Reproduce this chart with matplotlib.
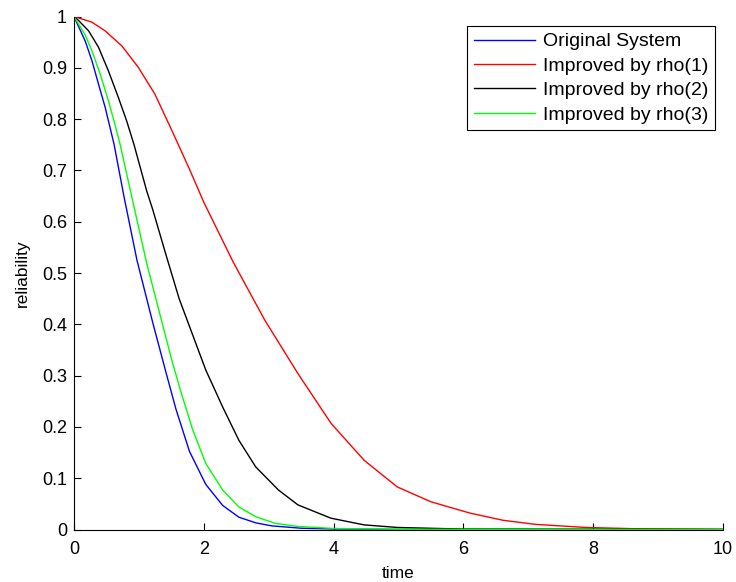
import matplotlib
matplotlib.use("Agg")
import matplotlib.pyplot as plt

plt.rcParams["font.family"] = ["Liberation Sans", "DejaVu Sans"]

# values
t_orig = [0, 0.072, 0.173, 0.276, 0.378, 0.48, 0.617, 0.77, 0.97, 1.22,
          1.42, 1.57, 1.78, 2.03, 2.29, 2.54, 2.80, 3.05, 3.5, 4.0, 5.0, 10.0]
r_orig = [1, 0.98, 0.952, 0.914, 0.868, 0.823, 0.751, 0.649, 0.525, 0.400,
          0.305, 0.235, 0.152, 0.088, 0.047, 0.024, 0.013, 0.007, 0.0025,
          0.001, 0.0002, 0.0]

t_rho1 = [0, 0.275, 0.48, 0.735, 0.99, 1.245, 1.50, 1.77, 2.0, 2.45, 2.94,
          3.45, 3.96, 4.47, 4.98, 5.5, 6.1, 6.61, 7.11, 7.88, 8.64, 10.0]
r_rho1 = [1, 0.989, 0.972, 0.943, 0.901, 0.849, 0.78, 0.705, 0.638, 0.522,
          0.408, 0.304, 0.207, 0.135, 0.083, 0.054, 0.032, 0.018, 0.010,
          0.004, 0.0015, 0.0002]

t_rho2 = [0, 0.072, 0.225, 0.378, 0.53, 0.684, 0.81, 0.923, 1.12, 1.21,
          1.43, 1.62, 1.80, 2.03, 2.29, 2.54, 2.80, 3.15, 3.45, 3.96, 4.47,
          4.98, 6.0, 10.0]
r_rho2 = [1, 0.992, 0.972, 0.94, 0.894, 0.842, 0.797, 0.751, 0.66, 0.625,
          0.53, 0.45, 0.389, 0.311, 0.239, 0.174, 0.122, 0.077, 0.048, 0.022,
          0.009, 0.004, 0.0008, 0.0]

t_rho3 = [0, 0.072, 0.173, 0.276, 0.403, 0.53, 0.63, 0.71, 0.87, 1.12, 1.38,
          1.52, 1.67, 1.83, 2.03, 2.29, 2.54, 2.80, 3.10, 3.45, 4.0, 5.0, 10.0]
r_rho3 = [1, 0.985, 0.964, 0.933, 0.888, 0.836, 0.79, 0.751, 0.66, 0.519,
          0.392, 0.324, 0.259, 0.194, 0.129, 0.077, 0.044, 0.025, 0.012,
          0.006, 0.002, 0.0004, 0.0]

labels = ["Original System", "Improved by rho(1)", "Improved by rho(2)",
          "Improved by rho(3)"]

fig = plt.figure(figsize=(7.36, 5.82), dpi=100)
ax = fig.add_axes([74 / 736, 52.5 / 582, 649 / 736, 513 / 582])

ax.plot(t_orig, r_orig, color="#0000ff", lw=1.0, label=labels[0])
ax.plot(t_rho1, r_rho1, color="#ff0000", lw=1.0, label=labels[1])
ax.plot(t_rho2, r_rho2, color="black", lw=1.0, label=labels[2])
ax.plot(t_rho3, r_rho3, color="#00ff00", lw=1.0, label=labels[3])

ax.set_xlim(0, 10)
ax.set_ylim(0, 1)
ax.set_xticks([0, 2, 4, 6, 8, 10])
ax.set_yticks([i / 10 for i in range(11)])
ax.set_yticklabels(["0", "0.1", "0.2", "0.3", "0.4", "0.5", "0.6", "0.7",
                    "0.8", "0.9", "1"])
ax.spines["top"].set_visible(False)
ax.spines["right"].set_visible(False)
for s in ("left", "bottom"):
    ax.spines[s].set_linewidth(0.8)
ax.tick_params(direction="in", length=5, width=0.8, labelsize=13)
ax.tick_params(axis="x", pad=8)
ax.tick_params(axis="y", pad=5)

ax.set_xlabel("time", fontsize=12.5, labelpad=6)
ax.set_ylabel("reliability", fontsize=12.5, labelpad=9)

leg = ax.legend(loc="upper right", bbox_to_anchor=(0.9877, 0.9815),
                borderaxespad=0, fontsize=14, fancybox=False, framealpha=1,
                edgecolor="black", handlelength=3.15, handletextpad=0.4,
                borderpad=0.35, labelspacing=0.35)
leg.get_frame().set_linewidth(0.8)

fig.savefig("out.png", dpi=100)
